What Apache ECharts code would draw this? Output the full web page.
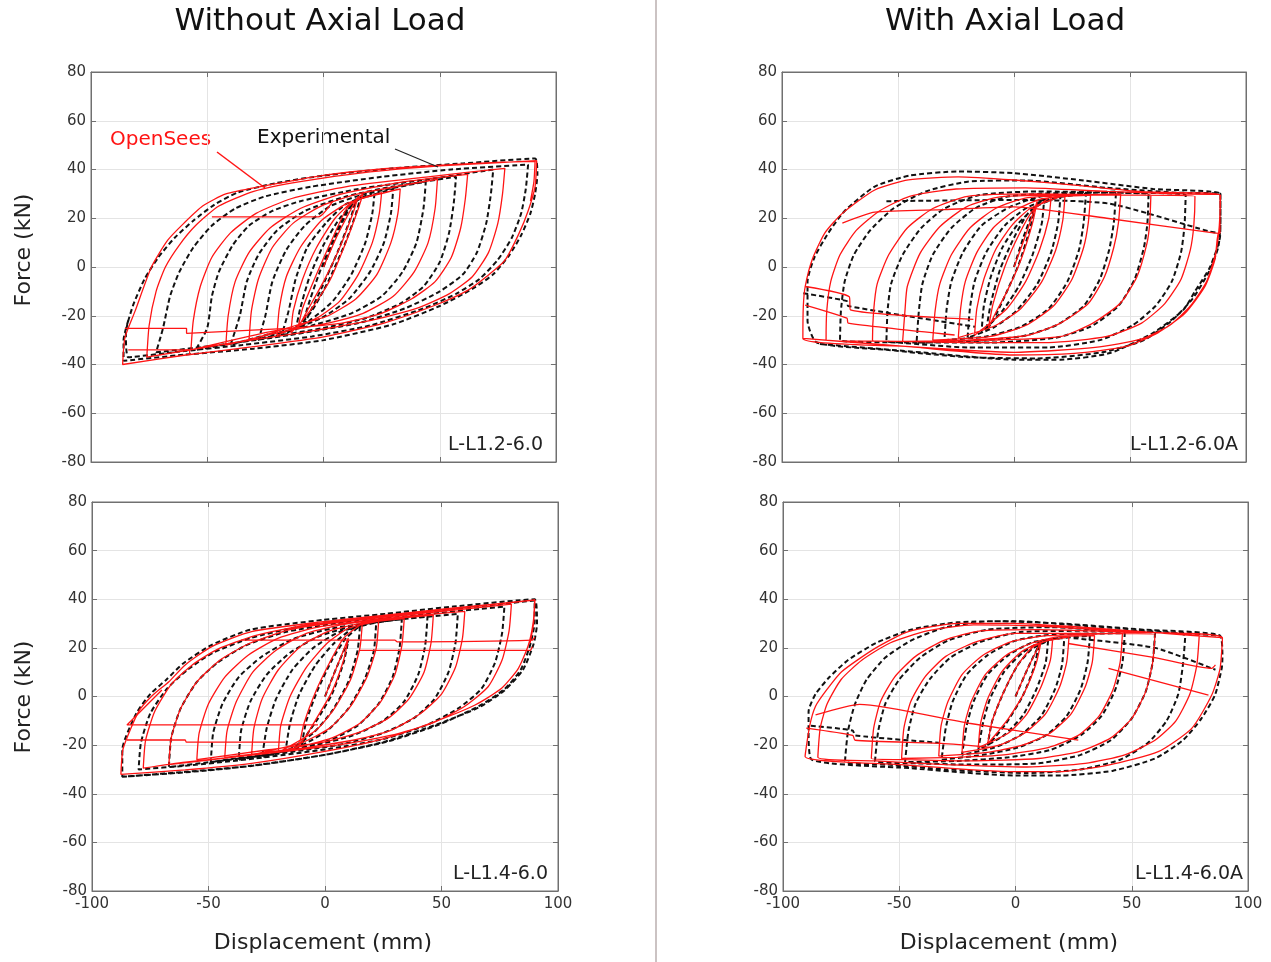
<!DOCTYPE html>
<html>
<head>
<meta charset="utf-8">
<title>Hysteresis loops</title>
<script src="https://cdn.jsdelivr.net/npm/echarts@6/dist/echarts.min.js"></script>
<style>
  html, body { margin: 0; padding: 0; background: #fff; }
  #chart { width: 1271px; height: 962px; }
</style>
</head>
<body>
<div id="chart"></div>
<script>
// axis limits: [min, max, interval]
const dispTicks = [-100, 100, 50];
const forceTicks = [-80, 80, 20];

const columnTitles = ["Without Axial Load", "With Axial Load"];
const panelNames = ["L-L1.2-6.0", "L-L1.2-6.0A", "L-L1.4-6.0", "L-L1.4-6.0A"];

// ---- L-L1.2-6.0 (top left) ----
const expTL = [
  [0,0],[5,12],[10,22],[14,28],
  [12,21],[6,6],[-1,-9],[-6,-19],[-9,-25],
  [-7,-17],[-2,-3],[4,11],[10,23],[16,29],
  [14,22],[9,9],[2,-6],[-5,-18],[-12,-26],
  [-10,-17],[-6,-4],[0,9],[7,20],[14,27],[22,31],
  [21,22],[18,10],[12,-3],[4,-14],[-6,-22],[-18,-28],
  [-15,-18],[-12,-5],[-7,8],[1,18],[10,26],[30,32],
  [29,22],[26,10],[20,-2],[11,-13],[-1,-21],[-15,-26],[-28,-30],
  [-25,-20],[-22,-6],[-16,7],[-8,17],[3,25],[18,30],[44,35],
  [43,24],[40,10],[34,-2],[25,-12],[12,-19],[-5,-24],[-25,-28],[-40,-32],
  [-36,-20],[-33,-6],[-28,5],[-20,15],[-8,23],[10,29],[30,33],[57,37],
  [56,26],[54,14],[50,2],[43,-8],[33,-15],[18,-21],[0,-25],[-25,-29],[-55,-34],
  [-50,-25],[-48,-12],[-45,-2],[-39,9],[-32,17],[-22,23],[-10,27],[15,32],[45,36],[73,40],
  [72,30],[70,18],[66,6],[60,-3],[50,-10],[35,-17],[15,-23],[-15,-28],[-45,-32],[-72,-35],
  [-69,-25],[-66,-12],[-62,-2],[-56,8],[-48,17],[-38,24],[-25,29],[-5,33],[25,37],[55,40],[88,42],
  [87,32],[85,22],[81,12],[75,3],[67,-5],[57,-11],[43,-17],[20,-24],[-5,-28.5],[-35,-32],[-60,-34.5],[-84,-37],
  [-85,-27],[-82,-16],[-77,-5],[-71,4],[-64,12],[-56,19],[-47,25.5],[-37,30.5],[-20,34.5],[0,37.5],[30,40.5],[60,42.5],[91,44.5],
  [92,38],[91,30],[89,22],[85,13],[80,5],[73,-3],[64,-9],[50,-16],[30,-23.5],[0,-30],[-30,-33.5],[-60,-36],[-86,-38.5],
  [-86,-30],[-84,-22]
];
const simTL = [
  [0,0],[6,13],[12,24],[15,29],
  [13,23],[7,8],[0,-6],[-7,-18],[-11,-25],
  [-9,-17],[-3,-3],[4,12],[10,24],[17,30],
  [15,24],[10,11],[3,-5],[-5,-17],[-10,-23],[-14,-27],
  [-13,-18],[-9,-5],[-3,8],[5,20],[13,27],[25,30.5],
  [24,22],[21,10],[15,-3],[7,-14],[-3,-21],[-20,-28],
  [-19,-17],[-16,-4],[-10,8],[-1,19],[10,26],[20,29],[33,32],
  [32,22],[29,10],[23,-3],[14,-13],[2,-20],[-12,-24],[-32,-30],
  [-31,-18],[-28,-5],[-22,8],[-13,18],[-1,25],[15,30],[49,36],
  [48,24],[45,10],[39,-2],[30,-12],[17,-19],[2,-23],[-20,-27],[-42,-32],
  [-41,-20],[-38,-6],[-32,6],[-23,16],[-10,24],[8,30],[35,35],[62,38],
  [61,28],[59,16],[55,4],[48,-6],[38,-13],[25,-19],[8,-23],[-20,-26],[-57,-34],
  [-56,-22],[-53,-8],[-48,4],[-40,14],[-29,22],[-14,28],[10,33],[45,37],[78,40.5],
  [77,30],[75,18],[71,6],[64,-4],[54,-11],[40,-17],[20,-22],[-10,-27],[-45,-32],[-76,-37],
  [-75,-24],[-72,-10],[-68,0],[-62,9],[-55,17],[-45,25],[-30,31],[-10,35],[20,39],[50,41.5],[91.7,43.6],
  [91,33],[88,23],[84,13.6],[78,2.7],[70,-4],[62,-9.6],[48,-15.7],[26,-23],[0,-28.7],[-31,-32.8],[-60,-36.2],[-86.4,-40],
  [-85.4,-29],[-81,-18],[-74,0],[-67,11],[-60,18],[-52,25],[-42,30],[-27,33],[0,37.6],[26,40.3],[49,41.7],[77,43],[91,43.3],
  [90.5,35],[89,27]
];
const simTLextra = [
  [[-85.4,-25.2],[-58.9,-25.2],[-58.9,-27.2],[-10.8,-25]],
  [[-84,-34],[-58,-34],[-57.5,-36]],
  [[-48,20.6],[-2.2,20.6],[4,27]]
];

// ---- L-L1.2-6.0A (top right) ----
const expTR = [
  [0,0],[4,12],[9,25],
  [7,16],[2,1],[-4,-12],[-9,-22],[-12,-26],
  [-10,-15],[-6,-1],[0,12],[6,22],[13,28],
  [12,18],[8,5],[2,-8],[-5,-18],[-14,-27],
  [-13,-16],[-10,-4],[-5,8],[2,18],[10,25],[20,29],
  [19,18],[16,6],[10,-7],[1,-18],[-9,-25],[-20,-29],
  [-19,-17],[-17,-6],[-12,6],[-4,17],[5,24],[15,28],[31,30],
  [30,18],[28,7],[23,-6],[15,-17],[3,-24.5],[-12,-28.5],[-30,-30],
  [-29,-17],[-27,-6],[-22,6],[-14,17],[-2,24.5],[12,29],[44,31],
  [43,18],[41,7],[37,-5],[30,-16],[18,-24],[3,-28.5],[-20,-30.5],[-42,-31],
  [-41,-18],[-39.5,-7],[-35,5],[-27,16],[-16,24.5],[-2,29],[25,30.5],[58,30],
  [57.5,18],[56,8],[52,-5],[45,-16],[33,-24.5],[18,-29],[-10,-31],[-35,-31],[-55,-30.5],
  [-54.5,-18],[-53,-7],[-48,5],[-40,16],[-30,24],[-15,29.5],[10,31],[45,30.5],[74,29.5],
  [73.5,17],[72,6],[68,-6],[61,-16],[51,-24],[37,-30],[15,-33],[-20,-33],[-50,-31],[-75,-30],
  [-74.6,-18],[-73,-6],[-69,5],[-62,15],[-52,24],[-38,31],[-20,35],[5,35.5],[40,32.5],[70,30.5],[89,30],
  [89,18],[88,8],[84,-2],[77,-13],[68,-22],[56,-30],[38,-35],[10,-37.5],[-20,-37],[-55,-34],[-85,-31],
  [-89,-22],[-89,-6],[-86,4],[-80,14],[-73,23],[-60,33],[-45,37.5],[-24,39.2],[0,38.5],[30,35.5],[60,32],[89,30],
  [89,22],[88.8,12.4],[84.5,0],[78,-10],[73,-17.6],[60,-27],[41.4,-35.3],[20,-38],[0,-38],[-40,-35],[-85,-31.5]
];
const expTRextra = [
  [[-90.8,-10.8],[-72,-14],[-71.5,-16],[-16.8,-24.5]],
  [[-55,27],[0,27.5],[41,26],[84.5,14.5],[88,14]]
];
const simTR = [
  [0,0],[5,13],[10,27],
  [8,18],[3,3],[-3,-10],[-8,-19],[-11,-25],
  [-9,-15],[-4,0],[2,13],[8,23],[16,29],
  [15,20],[11,7],[5,-6],[-3,-17],[-17,-28],
  [-16,-17],[-13,-5],[-8,7],[-1,17],[7,24],[22,29.5],
  [21,19],[18,7],[12,-6],[3,-17],[-8,-24],[-24,-29],
  [-23,-17],[-21,-6],[-16,6],[-9,16],[0,23],[12,28],[33,29.5],
  [32,18],[30,8],[25,-5],[17,-16],[5,-24],[-10,-28.5],[-35,-30],
  [-34,-18],[-32,-7],[-27,5],[-19,16],[-8,24],[6,28.5],[46,30],
  [45,18],[43,8],[39,-4],[32,-15],[20,-23],[6,-28],[-20,-30],[-48,-30.5],
  [-47,-18],[-46,-8],[-40.5,5.6],[-32,16.5],[-20.5,24.7],[-6,28.8],[25,29.5],[59,29.5],
  [58.5,18],[57.3,9.7],[53,-4],[45.7,-15],[34,-23],[20,-28.6],[-10,-30],[-35,-30.5],[-61,-30],
  [-60.5,-18],[-59,-7],[-54,5],[-46,16],[-35,24],[-20,29],[10,30],[45,29.5],[78,29],
  [77.5,17],[76,7],[72,-5],[65,-15],[55,-23],[40,-28.5],[15,-31],[-20,-31],[-50,-30.5],[-81,-30],
  [-80.7,-18],[-79,-6],[-75,5],[-68,15],[-58,23],[-45,29],[-25,32],[5,32.5],[40,31],[70,30],[89,29.5],
  [88.5,17],[87,6],[83,-6],[76,-16],[67,-24],[55,-29.5],[35,-33],[0,-35],[-45,-32.7],[-91,-29.3],
  [-90.8,-16],[-90,-8],[-87,3],[-81.5,14],[-74,22],[-60,31.6],[-45.5,35.7],[-24,37],[0,35.7],[26,33.6],[55,30.9],[88.8,29.5],
  [88.8,13.8],[88,13.8],[86.6,3],[82.3,-8],[73.7,-19],[62,-27],[48,-32.7],[26,-35.4],[0,-36.1],[-45.5,-32.7],[-90.8,-29.3]
];
const simTRextra = [
  [[-74,18],[-60,22.5],[-30,23.5],[0,24.7],[40,20],[86,14],[88.8,13.8]],
  [[-90,-8],[-71,-12.2],[-70.5,-17.6],[-17.5,-21.5]],
  [[-90,-15.6],[-72,-21],[-71.5,-23],[-25.6,-27.9]]
];

// ---- L-L1.4-6.0 (bottom left) ----
const expBL = [
  [0,0],[5,12],[10,23],
  [8,14],[3,1],[-3,-9],[-8,-16],[-10,-20],
  [-8,-10],[-3,3],[3,15],[9,24],[15,29],
  [14,19],[10,6],[3,-6],[-5,-15],[-17,-23],
  [-15,-11],[-11,1],[-4,13],[4,22],[12,28],[22,31],
  [21,19],[17,7],[10,-5],[1,-14],[-10,-20],[-27,-25],
  [-25,-13],[-21,-1],[-14,11],[-5,20],[6,26.5],[20,30],[33,32],
  [32,20],[29,8],[23,-3],[14,-12],[2,-18],[-15,-22],[-37,-26],
  [-36,-14],[-32,-2],[-25,9],[-15,18],[-2,25],[15,29.5],[44,33],
  [43,21],[40,9],[34,-2],[25,-10],[12,-16],[-4,-20],[-25,-23.5],[-49,-27],
  [-48,-15],[-44,-3],[-37,8],[-27,16.5],[-14,23.5],[3,28],[30,31.5],[57,34],
  [56,22],[53,10],[47,-1],[38,-9],[25,-15],[8,-19.5],[-20,-23.5],[-45,-26.5],[-67,-29],
  [-66,-17],[-62,-5],[-55,6],[-46,14],[-34,21],[-17,26.5],[5,30],[40,33.5],[77,37],
  [76,26],[73,14],[67,3],[57,-5],[43,-12],[25,-17.5],[2,-21.5],[-30,-25.5],[-60,-28.5],[-80,-30],
  [-79,-19],[-75,-7],[-68,3],[-59,11],[-48,18],[-32,24],[-12,28.5],[20,32.5],[55,36],[90,39.5],
  [90,31],[88,21],[84,11],[77,3],[66,-4],[49,-11.5],[27,-18.5],[0,-24],[-32,-28.5],[-60,-31],[-87,-33],
  [-87,-22],[-81,-7],[-75,1],[-68,7],[-61,13.5],[-49,21],[-32,27.5],[-1,31.5],[26,34],[55,37],[90,40],
  [91,30],[89.5,21.5],[85,11],[77,2.5],[66,-4.5],[48,-11.5],[26,-18.5],[0,-24],[-31,-28.5],[-60,-31.2],[-87,-33]
];
const simBL = [
  [0,0],[5,12],[10,24],
  [8,15],[3,2],[-3,-8],[-8,-16],[-11,-20],
  [-9,-11],[-4,2],[2,14],[8,24],[16,30],
  [15,20],[11,7],[4,-5],[-4,-14],[-20,-23],
  [-19,-12],[-15,0],[-8,12],[1,22],[10,28],[23,31],
  [22,20],[18,8],[11,-4],[2,-13],[-10,-19],[-31.5,-24],
  [-30.5,-13],[-27,-1],[-20,11],[-10,21],[2,27],[15,30],[34,32],
  [33,21],[30,9],[24,-2],[15,-11],[3,-17],[-15,-21.5],[-43,-25],
  [-42,-14],[-38,-2],[-31,10],[-21,19],[-8,26],[10,30],[46.5,33.5],
  [45.5,22],[42.5,10],[36,-1],[27,-9],[14,-15],[-2,-19],[-25,-22],[-55,-26],
  [-54,-15],[-50,-3],[-43,8],[-33,17],[-20,24],[-3,28.5],[25,32],[60,35],
  [59,24],[56,12],[50,1],[41,-7],[28,-14],[12,-18],[-15,-22],[-40,-25],[-67,-28],
  [-66,-17],[-62,-5],[-55,6],[-45,15],[-32,22],[-15,27.5],[10,31],[45,34.5],[80,38],
  [79,27],[76,15],[70,4],[60,-4],[46,-11],[28,-16],[5,-20],[-30,-24],[-60,-27],[-78,-29.5],
  [-77,-18],[-73,-6],[-66,5],[-57,13],[-46,19.5],[-30,25],[-10,29],[20,32.5],[55,36],[90,39.7],
  [89.4,30.8],[87.3,21.2],[83,11.6],[75.8,3.4],[64.4,-3.5],[47.2,-10.3],[25.8,-17.2],[-0.7,-22.7],[-31.5,-27.5],[-60,-30.2],[-87.6,-32],
  [-86.6,-21.3],[-80,-6.2],[-74,0.5],[-67,6.1],[-60,13],[-48.6,20.5],[-31.5,26.7],[-0.7,30.8],[25.8,33.5],[54.4,36.3],[90.1,39.7],
  [89.5,30],[88,22]
];
const simBLextra = [
  [[-70,2.7],[-85,-11.7],[-3,-11.7]],
  [[-85,-17.9],[-60,-17.9],[-59.5,-18.8],[-17,-18.8]],
  [[-36,23.2],[30,23.2],[31,22.5],[89,23.2],[90,24.5]],
  [[15,19],[88,19],[89,20.5]]
];

// ---- L-L1.4-6.0A (bottom right) ----
const expBR = [
  [0,0],[5,11],[10,21],
  [8,12],[3,0],[-4,-11],[-9,-17],[-12,-20],
  [-10,-10],[-5,2],[1,13],[7,19.5],[14,23],
  [13,14],[9,3],[3,-8],[-5,-16],[-16,-22],
  [-14,-11],[-11,-1],[-5,10],[3,18],[11,22.5],[21,24.5],
  [20,13],[17,3],[11,-8],[2,-16],[-9,-21],[-23,-24],
  [-21,-12],[-18,-2],[-12,9],[-3,17],[8,22.5],[32,25],
  [31,14],[28,3],[22,-8],[13,-16],[1,-21],[-14,-24],[-31.8,-26],
  [-30,-13],[-27,-2],[-21,9],[-12,17],[0,23],[16,25.5],[47,26],
  [46,14],[43,3],[37,-8],[28,-16],[15,-22],[-3,-25],[-25,-26.5],[-47.5,-27],
  [-46,-14],[-43,-3],[-37,7],[-28,16],[-15,22.5],[2,26.5],[30,27],[60,26],
  [59,14],[56,2],[50,-9],[41,-18],[28,-24],[10,-27.5],[-20,-28],[-42,-27.5],[-60.4,-26.5],
  [-59,-14],[-56,-3],[-50,7],[-41,16],[-29,23],[-12,27.5],[15,28.5],[45,27],[73,25],
  [72,13],[70,1],[65,-10],[57,-19],[45,-26],[28,-30],[5,-31.5],[-30,-30],[-55,-28],[-73.3,-26.5],
  [-72,-14],[-69,-3],[-64,7],[-56,16],[-45,23],[-30,28.5],[-10,31],[20,30],[55,27.5],[88,25],
  [89,16],[88.7,11.6],[85.8,0.6],[80,-9],[72,-18],[60,-25.5],[42,-30.5],[20,-32.5],[0,-32.5],[-45,-29.5],[-87.7,-26],
  [-89,-15],[-89,-6.2],[-86,1],[-80,8],[-72,15],[-60,22],[-45,27.5],[-25,30.5],[0,31],[30,29],[60,27],[88,25]
];
const expBRextra = [
  [[-88,-12],[-70,-14],[-69,-16],[-33,-19]],
  [[25,24],[60,20],[86,11]]
];
const simBR = [
  [0,0],[5,11],[11,22.6],
  [9,14],[4,2],[-3,-9],[-8,-15],[-12,-19.5],
  [-10,-10],[-5,2],[1,13],[7,20],[16,24],
  [15,15],[11,4],[5,-7],[-3,-15],[-16,-21],
  [-15,-11],[-12,-1],[-6,10],[2,18],[10,22],[23,24.5],
  [22,14],[19,4],[13,-7],[4,-15],[-7,-20],[-23,-23],
  [-22,-12],[-19,-2],[-13,9],[-4,17],[7,22],[18,24.5],[34,25],
  [33,14],[30,4],[24,-7],[15,-15],[3,-20],[-12,-23],[-33,-24.5],
  [-32,-12],[-29,-2],[-23,9],[-14,17],[-2,22.5],[14,25],[46,26],
  [45,14],[42,3],[36,-8],[27,-16],[14,-21],[-5,-24],[-25,-25],[-49,-25.5],
  [-48,-13],[-45,-2],[-39,8],[-30,16.5],[-17,22.5],[0,26],[30,26],[60,25.5],
  [59,14],[56,2],[50,-9],[41,-17],[28,-22.5],[10,-25.5],[-20,-26.5],[-45,-26],[-62,-25.5],
  [-61,-13],[-58,-2],[-52,8],[-43,16.5],[-31,23],[-15,27],[10,27.5],[45,26.5],[79,25],
  [78,13],[75,1],[69,-10],[60,-18],[47,-24],[30,-27.5],[5,-29],[-30,-28],[-60,-26.5],[-85,-25],
  [-84,-13],[-81,-3],[-75,7],[-66,15],[-54,22],[-38,27],[-18,29.5],[10,29],[50,26.5],[89,24.2],
  [88,11.6],[84.4,0.6],[75.8,-13.1],[61.4,-22.7],[39.9,-28.2],[18.4,-30.9],[-0.9,-30.9],[-46.1,-28.2],[-90.5,-24.7],
  [-88.5,-12],[-86,-4],[-81,3],[-74.8,10.2],[-60.4,19.8],[-46.1,26.7],[-24.6,30.1],[-0.9,30.1],[25.6,28.7],[54.3,26.7],[88.7,24.2]
];
const simBRextra = [
  [[-86,-7.6],[-67,-3.2],[-20,-11],[27,-17.9]],
  [[-90,-13],[-70,-16],[-69,-18],[-32,-19.3],[-10,-21]],
  [[22.7,21.8],[60,16],[84.4,11.6],[86,13]],
  [[40,11.6],[83,0.6]]
];

const panels = [
  { exp: expTL, expExtra: [], sim: simTL, simExtra: simTLextra },
  { exp: expTR, expExtra: expTRextra, sim: simTR, simExtra: simTRextra },
  { exp: expBL, expExtra: [], sim: simBL, simExtra: simBLextra },
  { exp: expBR, expExtra: expBRextra, sim: simBR, simExtra: simBRextra }
];

const grids = [
  { left: 91, top: 72, width: 465, height: 390 },
  { left: 782, top: 72, width: 464, height: 390 },
  { left: 92, top: 502, width: 466, height: 389 },
  { left: 783, top: 502, width: 465, height: 389 }
];

const FONT = "DejaVu Sans";
const RED = "#ff1414";
const FRAME = "#707070";

const xAxes = [], yAxes = [], series = [];
grids.forEach((g, i) => {
  xAxes.push({
    gridIndex: i, type: "value", min: dispTicks[0], max: dispTicks[1], interval: dispTicks[2],
    axisLine: { show: true, onZero: false, lineStyle: { color: FRAME } },
    axisTick: { show: true, inside: true, length: 5, lineStyle: { color: FRAME } },
    axisLabel: { show: i >= 2, color: "#333", fontSize: 15, fontFamily: FONT, margin: 6 },
    splitLine: { show: true, lineStyle: { color: "#e4e4e4", width: 1 } }
  });
  xAxes.push({
    gridIndex: i, type: "value", position: "top", min: dispTicks[0], max: dispTicks[1], interval: dispTicks[2],
    axisLine: { show: true, onZero: false, lineStyle: { color: FRAME } },
    axisTick: { show: true, inside: true, length: 5, lineStyle: { color: FRAME } },
    axisLabel: { show: false }, splitLine: { show: false }
  });
  yAxes.push({
    gridIndex: i, type: "value", min: forceTicks[0], max: forceTicks[1], interval: forceTicks[2],
    axisLine: { show: true, onZero: false, lineStyle: { color: FRAME } },
    axisTick: { show: true, inside: true, length: 5, lineStyle: { color: FRAME } },
    axisLabel: { color: "#333", fontSize: 15, fontFamily: FONT, margin: 5 },
    splitLine: { show: true, lineStyle: { color: "#e4e4e4", width: 1 } }
  });
  yAxes.push({
    gridIndex: i, type: "value", position: "right", min: forceTicks[0], max: forceTicks[1], interval: forceTicks[2],
    axisLine: { show: true, onZero: false, lineStyle: { color: FRAME } },
    axisTick: { show: true, inside: true, length: 5, lineStyle: { color: FRAME } },
    axisLabel: { show: false }, splitLine: { show: false }
  });

  const p = panels[i];
  const base = { type: "line", xAxisIndex: 2 * i, yAxisIndex: 2 * i, symbol: "none", silent: true, smooth: 0.2, animation: false };
  // experimental: black dashed
  [p.exp].concat(p.expExtra).forEach(d => {
    series.push(Object.assign({}, base, {
      name: "Experimental", data: d, z: 2,
      lineStyle: { color: "#111", width: 2, type: [5, 3] }
    }));
  });
  // OpenSees: red solid
  [p.sim].concat(p.simExtra).forEach(d => {
    series.push(Object.assign({}, base, {
      name: "OpenSees", data: d, z: 3,
      lineStyle: { color: RED, width: 1.3 }
    }));
  });
});

const txt = (x, y, text, size, opts) => ({
  type: "text", x: x, y: y,
  style: Object.assign({ text: text, fontSize: size, fontFamily: FONT, fill: "#111", align: "center", verticalAlign: "middle" }, opts || {})
});

const graphic = [
  { type: "line", shape: { x1: 656, y1: 0, x2: 656, y2: 962 }, style: { stroke: "#cbc3c3", lineWidth: 2 } },
  txt(320, 22, columnTitles[0], 31),
  txt(1005, 22, columnTitles[1], 31),
  { type: "text", x: 24, y: 250, rotation: Math.PI / 2, style: { text: "Force (kN)", fontSize: 22, fontFamily: FONT, fill: "#222", align: "center", verticalAlign: "middle" } },
  { type: "text", x: 24, y: 697, rotation: Math.PI / 2, style: { text: "Force (kN)", fontSize: 22, fontFamily: FONT, fill: "#222", align: "center", verticalAlign: "middle" } },
  txt(323, 943, "Displacement (mm)", 22, { fill: "#222" }),
  txt(1009, 943, "Displacement (mm)", 22, { fill: "#222" }),
  txt(543, 445, panelNames[0], 19, { align: "right", fill: "#222" }),
  txt(1238, 445, panelNames[1], 19, { align: "right", fill: "#222" }),
  txt(548, 874, panelNames[2], 19, { align: "right", fill: "#222" }),
  txt(1243, 874, panelNames[3], 19, { align: "right", fill: "#222" }),
  // annotations in the first panel
  txt(110, 140, "OpenSees", 20, { align: "left", fill: RED }),
  txt(257, 138, "Experimental", 20, { align: "left", fill: "#111" }),
  { type: "line", shape: { x1: 217, y1: 152, x2: 265, y2: 188 }, style: { stroke: RED, lineWidth: 1.5 }, z: 10 },
  { type: "line", shape: { x1: 395, y1: 149, x2: 438, y2: 167 }, style: { stroke: "#222", lineWidth: 1.2 }, z: 10 }
];

const chart = echarts.init(document.getElementById("chart"), null, { renderer: "canvas" });
chart.setOption({
  backgroundColor: "#fff",
  animation: false,
  grid: grids.map(g => Object.assign({ show: true, borderColor: FRAME, borderWidth: 1, backgroundColor: "#fff" }, g)),
  xAxis: xAxes,
  yAxis: yAxes,
  series: series,
  graphic: graphic
});
</script>
</body>
</html>
